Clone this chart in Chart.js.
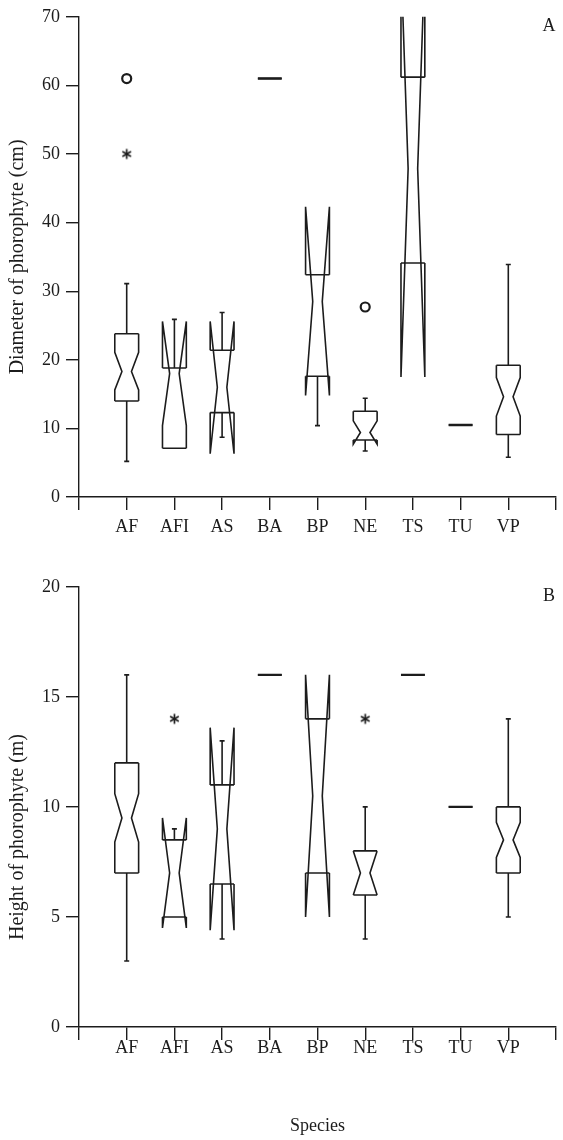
<!DOCTYPE html>
<html>
<head>
<meta charset="utf-8">
<script src="https://cdn.jsdelivr.net/npm/chart.js@4/dist/chart.umd.min.js"></script>
<style>
  html, body { margin: 0; padding: 0; background: #fff; }
  #wrapA { position: absolute; left: 0; top: 0; width: 563px; height: 560px; }
  #wrapB { position: absolute; left: 0; top: 570px; width: 563px; height: 570px; }
</style>
</head>
<body>
<div id="wrapA"><canvas id="chartA" width="563" height="560"></canvas></div>
<div id="wrapB"><canvas id="chartB" width="563" height="570"></canvas></div>
<script>
// ---------- DATA ----------
const species = ['AF', 'AFI', 'AS', 'BA', 'BP', 'NE', 'TS', 'TU', 'VP'];

// Panel A: Diameter of phorophyte (cm)
const diamMin    = [5.2, 7.1, 8.7, 61, 10.4, 6.7, 34.1, 10.5, 5.8];
const diamQ1     = [14.0, 7.1, 12.3, 61, 17.6, 8.3, 34.1, 10.5, 9.1];
const diamMedian = [18.3, 18.0, 16.0, 61, 28.5, 9.4, 47.9, 10.5, 14.6];
const diamQ3     = [23.8, 18.8, 21.4, 61, 32.4, 12.5, 61.2, 10.5, 19.2];
const diamMax    = [31.1, 25.9, 26.9, 61, 32.4, 14.4, 61.2, 10.5, 33.9];
const diamNotchLo = [15.6, 10.4, 6.3, 61, 14.8, 7.7, 17.5, 10.5, 11.8];
const diamNotchHi = [21.1, 25.6, 25.6, 61, 42.3, 11.1, 78.3, 10.5, 17.4];
const diamOutlierCircle = [{ sp: 'AF', v: 61 }, { sp: 'NE', v: 27.7 }];
const diamOutlierStar   = [{ sp: 'AF', v: 50 }];
const diamTicks = [0, 10, 20, 30, 40, 50, 60, 70];

// Panel B: Height of phorophyte (m)
const heightMin    = [3, 5, 4, 16, 7, 4, 16, 10, 5];
const heightQ1     = [7, 5, 6.5, 16, 7, 6, 16, 10, 7];
const heightMedian = [9.5, 7, 9, 16, 10.5, 7, 16, 10, 8.5];
const heightQ3     = [12, 8.5, 11, 16, 14, 8, 16, 10, 10];
const heightMax    = [16, 9, 13, 16, 14, 10, 16, 10, 14];
const heightNotchLo = [8.4, 4.5, 4.4, 16, 5, 6, 16, 10, 7.7];
const heightNotchHi = [10.6, 9.5, 13.6, 16, 16, 8, 16, 10, 9.3];
const heightOutlierCircle = [];
const heightOutlierStar   = [{ sp: 'AFI', v: 14 }, { sp: 'NE', v: 14 }];
const heightTicks = [0, 5, 10, 15, 20];

// ---------- STYLE ----------
const INK = '#1c1c1c';
const FONT = '"Liberation Serif", "Times New Roman", serif';

// asterisk point style (6 spokes)
const star = document.createElement('canvas');
star.width = 13; star.height = 13;
(function () {
  const c = star.getContext('2d');
  c.strokeStyle = INK; c.lineWidth = 1.7; c.lineCap = 'butt';
  const r = 5;
  for (let k = 0; k < 3; k++) {
    const a = Math.PI / 2 + k * Math.PI / 3;
    c.beginPath();
    c.moveTo(6.5 - r * Math.cos(a), 6.5 - r * Math.sin(a));
    c.lineTo(6.5 + r * Math.cos(a), 6.5 + r * Math.sin(a));
    c.stroke();
  }
})();

// ---------- PLUGINS ----------
const notchedBoxPlugin = {
  id: 'notchedBox',
  afterDatasetsDraw(chart, args, opts) {
    const s = opts.stats;
    if (!s) return;
    const { ctx, chartArea: a } = chart;
    const xs = chart.scales.x, ys = chart.scales.y;
    const Y = v => ys.getPixelForValue(v);
    ctx.save();
    ctx.beginPath();
    ctx.rect(a.left, a.top, a.right - a.left, a.bottom - a.top);
    ctx.clip();
    ctx.strokeStyle = INK;
    ctx.lineWidth = 1.6;
    ctx.lineJoin = 'miter';
    const step = xs.getPixelForValue(1) - xs.getPixelForValue(0);
    const hw = step * 0.25, ww = hw * 0.4, cap = 2.5;
    for (let i = 0; i < species.length; i++) {
      const cx = xs.getPixelForValue(i + 1);
      const q1 = s.q1[i], q3 = s.q3[i], med = s.median[i];
      const nlo = s.nlo[i], nhi = s.nhi[i], mn = s.min[i], mx = s.max[i];
      ctx.beginPath();
      for (const side of [-1, 1]) {
        ctx.moveTo(cx + side * hw, Y(q1));
        ctx.lineTo(cx + side * hw, Y(nlo));
        ctx.lineTo(cx + side * ww, Y(med));
        ctx.lineTo(cx + side * hw, Y(nhi));
        ctx.lineTo(cx + side * hw, Y(q3));
      }
      ctx.moveTo(cx - hw, Y(q1)); ctx.lineTo(cx + hw, Y(q1));
      ctx.moveTo(cx - hw, Y(q3)); ctx.lineTo(cx + hw, Y(q3));
      if (mx > q3) {
        ctx.moveTo(cx, Y(q3)); ctx.lineTo(cx, Y(mx));
        ctx.moveTo(cx - cap, Y(mx)); ctx.lineTo(cx + cap, Y(mx));
      }
      if (mn < q1) {
        ctx.moveTo(cx, Y(q1)); ctx.lineTo(cx, Y(mn));
        ctx.moveTo(cx - cap, Y(mn)); ctx.lineTo(cx + cap, Y(mn));
      }
      ctx.stroke();
      if (q1 === q3) {
        ctx.lineWidth = 2.4;
        ctx.beginPath();
        ctx.moveTo(cx - hw, Y(q1)); ctx.lineTo(cx + hw, Y(q1));
        ctx.stroke();
        ctx.lineWidth = 1.6;
      }
    }
    ctx.restore();
  }
};

const textPlugin = {
  id: 'extraText',
  afterDraw(chart, args, opts) {
    const { ctx, chartArea: a } = chart;
    ctx.save();
    ctx.fillStyle = INK;
    ctx.textAlign = 'center';
    ctx.textBaseline = 'middle';
    ctx.font = '18px ' + FONT;
    if (opts.letter) ctx.fillText(opts.letter, a.right - 7, a.top + 9);
    if (opts.yTitle) {
      ctx.font = '20px ' + FONT;
      ctx.translate(opts.yTitle.x, opts.yTitle.y);
      ctx.rotate(-Math.PI / 2);
      ctx.fillText(opts.yTitle.text, 0, 0);
    }
    ctx.restore();
  }
};

function outlierData(list) {
  return list.map(o => ({ x: species.indexOf(o.sp) + 1, y: o.v }));
}

function makeChart(id, cfg) {
  return new Chart(document.getElementById(id), {
    type: 'scatter',
    data: {
      datasets: [
        {
          label: 'outliers (o)',
          data: outlierData(cfg.circles),
          pointStyle: 'circle',
          pointRadius: 4.5,
          pointBorderWidth: 2.2,
          pointBorderColor: INK,
          pointBackgroundColor: 'rgba(0,0,0,0)'
        },
        {
          label: 'extremes (*)',
          data: outlierData(cfg.stars),
          pointStyle: star,
          pointRadius: 6
        }
      ]
    },
    options: {
      responsive: false,
      animation: false,
      devicePixelRatio: 1,
      layout: { padding: { top: 14, right: 2, left: 0, bottom: 0 } },
      plugins: {
        legend: { display: false },
        tooltip: { enabled: false },
        notchedBox: { stats: cfg.stats },
        extraText: { letter: cfg.letter, yTitle: cfg.yTitlePlugin }
      },
      scales: {
        x: {
          type: 'linear',
          min: 0, max: 10,
          afterFit: s => { s.height = cfg.xHeight; },
          afterBuildTicks: s => { s.ticks = [0,1,2,3,4,5,6,7,8,9,10].map(v => ({ value: v })); },
          ticks: {
            autoSkip: false, maxRotation: 0, minRotation: 0,
            padding: cfg.xPad,
            color: INK,
            font: { family: FONT, size: 18 },
            callback: v => species[v - 1] || ''
          },
          grid: { drawOnChartArea: false, drawTicks: true, tickLength: 13, color: INK, lineWidth: 1.4 },
          border: { display: true, color: INK, width: 1.4 },
          title: cfg.xTitle ? {
            display: true, text: cfg.xTitle, color: INK,
            font: { family: FONT, size: 18 }, padding: { top: 0, bottom: 3 }
          } : { display: false }
        },
        y: {
          type: 'linear',
          min: cfg.yTicks[0], max: cfg.yTicks[cfg.yTicks.length - 1],
          afterFit: s => { s.width = 79; },
          afterBuildTicks: s => { s.ticks = cfg.yTicks.map(v => ({ value: v })); },
          ticks: {
            padding: 6, color: INK,
            font: { family: FONT, size: 18 }
          },
          grid: { drawOnChartArea: false, drawTicks: true, tickLength: 13, color: INK, lineWidth: 1.4 },
          border: { display: true, color: INK, width: 1.4 },
          title: cfg.yTitle ? {
            display: true, text: cfg.yTitle, color: INK,
            font: { family: FONT, size: 20 }, padding: { top: 6, bottom: 0 }
          } : { display: false }
        }
      }
    },
    plugins: [notchedBoxPlugin, textPlugin]
  });
}

makeChart('chartA', {
  stats: { min: diamMin, q1: diamQ1, median: diamMedian, q3: diamQ3, max: diamMax, nlo: diamNotchLo, nhi: diamNotchHi },
  circles: diamOutlierCircle,
  stars: diamOutlierStar,
  yTicks: diamTicks,
  yTitle: 'Diameter of phorophyte (cm)',
  letter: 'A',
  xHeight: 63,
  xPad: 6
});

makeChart('chartB', {
  stats: { min: heightMin, q1: heightQ1, median: heightMedian, q3: heightQ3, max: heightMax, nlo: heightNotchLo, nhi: heightNotchHi },
  circles: heightOutlierCircle,
  stars: heightOutlierStar,
  yTicks: heightTicks,
  yTitlePlugin: { text: 'Height of phorophyte (m)', x: 18, y: 267 },
  xTitle: 'Species',
  letter: 'B',
  xHeight: 113,
  xPad: -3
});
</script>
</body>
</html>
